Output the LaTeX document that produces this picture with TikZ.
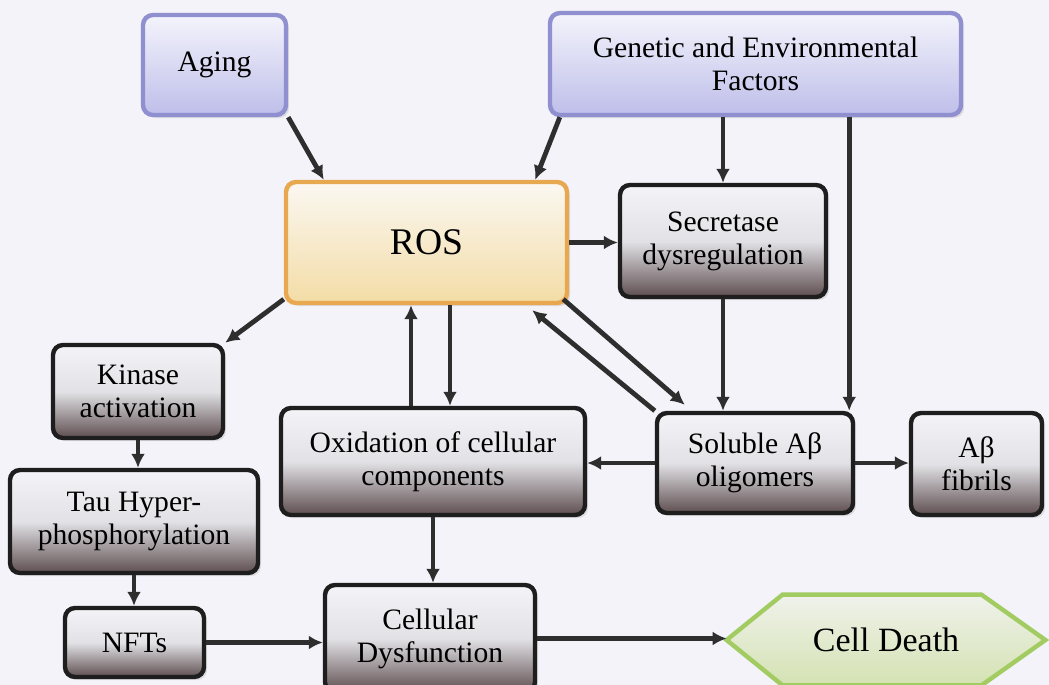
\documentclass[tikz,border=0pt]{standalone}
\usepackage{fontspec}
\setmainfont{Liberation Serif}
\usetikzlibrary{arrows.meta,shadows,backgrounds}
\definecolor{pagebg}{HTML}{F3F3F9}
\definecolor{factorline}{HTML}{9090D0}
\definecolor{factortop}{HTML}{F4F4FC}
\definecolor{factorbot}{HTML}{BEBEEA}
\definecolor{rosline}{HTML}{E8A850}
\definecolor{rostop}{HTML}{FBF8F2}
\definecolor{rosbot}{HTML}{F3DCA6}
\definecolor{darkline}{HTML}{1E1E1E}
\definecolor{darktop}{HTML}{F4F4F8}
\definecolor{darkmid}{HTML}{E2E2E6}
\definecolor{darkbot}{HTML}{5E4E50}
\definecolor{deathline}{HTML}{A2CC62}
\definecolor{deathtop}{HTML}{F0F2EC}
\definecolor{deathbot}{HTML}{D4E2B2}
\definecolor{linkgrey}{HTML}{2E2E2E}

\begin{document}
\begin{tikzpicture}[x=0.5pt,y=-0.5pt,
    every node/.style={align=center,inner sep=0pt,font=\fontsize{14.8}{16.5}\selectfont},
    box/.style={rectangle,rounded corners=5pt,line width=2.2pt,
        drop shadow={opacity=0.2,shadow xshift=1.5pt,shadow yshift=-1.5pt}},
    factorbox/.style={box,draw=factorline,top color=factortop,bottom color=factorbot},
    rosbox/.style={box,draw=rosline,top color=rostop,bottom color=rosbot},
    darkbox/.style={box,draw=darkline,top color=darktop,bottom color=darkbot,middle color=darkmid},
    deathbox/.style={line width=2.2pt,draw=deathline,top color=deathtop,bottom color=deathbot},
    link/.style={draw=linkgrey,line width=2.4pt,-{Latex[length=7pt,width=7pt]}}]

        \clip (0,0) rectangle (1049,685);

        \node[factorbox,minimum width=71.5pt,minimum height=50pt] (aging) at (214.5,65) {Aging};
        \node[factorbox,minimum width=205.5pt,minimum height=51pt] (genetic) at (755.5,64) {Genetic and Environmental\\Factors};
        \node[rosbox,minimum width=140.5pt,minimum height=60.5pt,font=\fontsize{18.8}{20}\selectfont] (ros) at (426.5,242.5) {ROS};
        \node[darkbox,minimum width=103pt,minimum height=56pt] (secretase) at (723,241) {Secretase\\dysregulation};
        \node[darkbox,minimum width=85pt,minimum height=46.5pt] (kinase) at (138,391.5) {Kinase\\activation};
        \node[darkbox,minimum width=124pt,minimum height=51.5pt] (tau) at (134,521.5) {Tau Hyper-\\phosphorylation};
        \node[darkbox,minimum width=69.5pt,minimum height=34.5pt] (nfts) at (134.5,642.5) {NFTs};
        \node[darkbox,minimum width=152pt,minimum height=53.5pt] (oxidation) at (433,461.5) {Oxidation of cellular\\components};
        \node[darkbox,minimum width=105pt,minimum height=53.5pt] (cellular) at (430,638.5) {Cellular\\Dysfunction};
        \node[darkbox,minimum width=98pt,minimum height=50pt] (soluble) at (755,463) {Soluble Aβ\\oligomers};
        \node[darkbox,minimum width=65.5pt,minimum height=51pt] (fibrils) at (976.5,464) {Aβ\\fibrils};
        \node[minimum width=159pt,minimum height=45pt,font=\fontsize{17}{19}\selectfont] (death) at (886,640) {Cell Death};

        \begin{scope}[on background layer]
        \fill[pagebg] (0,0) rectangle (1049,685);
        \path[deathbox] (death.west) -- ([xshift=28pt]death.north west) -- ([xshift=-32pt]death.north east)
            -- (death.east) -- ([xshift=-32pt]death.south east) -- ([xshift=28pt]death.south west) -- cycle;
        \end{scope}

        \draw[link] (aging.south east) -- ([xshift=20pt]ros.north west);
        \draw[link] ([xshift=6pt]genetic.south west) -- ([xshift=-17pt]ros.north east);
        \draw[link] (secretase.north |- genetic.south) -- (secretase.north);
        \draw[link] ([xshift=-3pt]soluble.north east |- genetic.south) -- ([xshift=-3pt]soluble.north east);
        \draw[link] (ros.east) -- (ros.east -| secretase.west);
        \draw[link] ([yshift=3pt]ros.south west) -- (kinase.north east);
        \draw[link] ([xshift=-11pt]oxidation.north) -- ([xshift=-11pt]oxidation.north |- ros.south);
        \draw[link] ([xshift=8.5pt]oxidation.north |- ros.south) -- ([xshift=8.5pt]oxidation.north);
        \draw[link] (secretase.south) -- (secretase.south |- soluble.north);
        \draw[link] ([xshift=-3pt,yshift=3pt]ros.south east) -- ([xshift=15pt,yshift=3pt]soluble.north west);
        \draw[link] (soluble.north west) -- ([xshift=-18.5pt,yshift=-2.5pt]ros.south east);
        \draw[link] (soluble.west) -- (soluble.west -| oxidation.east);
        \draw[link] (soluble.east) -- (soluble.east -| fibrils.west);
        \draw[link] (kinase.south) -- (kinase.south |- tau.north);
        \draw[link] (tau.south) -- (tau.south |- nfts.north);
        \draw[link] (nfts.east) -- (nfts.east -| cellular.west);
        \draw[link] (oxidation.south) -- (oxidation.south |- cellular.north);
        \draw[link] (cellular.east) -- (cellular.east -| death.west);

\end{tikzpicture}
\end{document}
